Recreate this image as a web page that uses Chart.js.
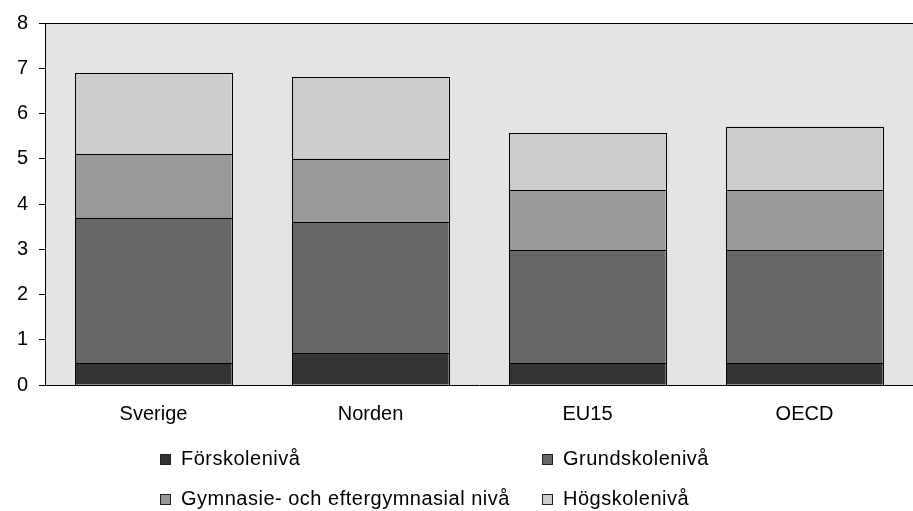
<!DOCTYPE html>
<html lang="sv">
<head>
  <meta charset="UTF-8" />
  <title>Utbildningsutgifter per nivå</title>
  <script src="https://cdn.jsdelivr.net/npm/chart.js"></script>
  <style>
    html, body { margin: 0; padding: 0; background: #fff; }
    #wrap { position: relative; width: 913px; height: 511px; }
    .leg { position: absolute; font: 20px "Liberation Sans", Arial, sans-serif; line-height: 20px; color: #000; letter-spacing: 0.5px; white-space: nowrap; }
    .sw { position: absolute; width: 9px; height: 9px; border: 1px solid #222; }
  </style>
</head>
<body>
  <div id="wrap">
    <canvas id="chart" width="913" height="511"></canvas>
    <div id="legend"></div>
  </div>

  <script>
    const countries = ['Sverige', 'Norden', 'EU15', 'OECD'];
    const forskola = [0.48, 0.7, 0.48, 0.48];
    const grundskola = [3.22, 2.9, 2.5, 2.5];
    const gymnasie = [1.4, 1.4, 1.32, 1.32];
    const hogskola = [1.8, 1.8, 1.27, 1.41];
    const yTicks = [0, 1, 2, 3, 4, 5, 6, 7, 8];

    const series = [
      { label: 'Förskolenivå', data: forskola, color: '#333333' },
      { label: 'Grundskolenivå', data: grundskola, color: '#666666' },
      { label: 'Gymnasie- och eftergymnasial nivå', data: gymnasie, color: '#999999' },
      { label: 'Högskolenivå', data: hogskola, color: '#cccccc' }
    ];

    // grey plot area + top frame line
    const plotBg = {
      id: 'plotBg',
      beforeDraw(chart) {
        const a = chart.chartArea, c = chart.ctx;
        c.save();
        c.fillStyle = '#e4e4e4';
        c.fillRect(a.left, a.top, a.right - a.left, a.bottom - a.top);
        c.strokeStyle = '#000';
        c.lineWidth = 1;
        c.beginPath();
        c.moveTo(a.left, Math.round(a.top) + 0.5);
        c.lineTo(a.right, Math.round(a.top) + 0.5);
        c.stroke();
        c.restore();
      }
    };

    // crisp 1px black outlines on every bar segment (shared edges land on one row)
    const crispEdges = {
      id: 'crispEdges',
      afterDatasetsDraw(chart) {
        const c = chart.ctx;
        const px = v => Math.round(v) + 0.5;
        c.save();
        c.strokeStyle = '#000';
        c.lineWidth = 1;
        chart.data.datasets.forEach((ds, i) => {
          chart.getDatasetMeta(i).data.forEach(bar => {
            const p = bar.getProps(['x', 'y', 'base', 'width'], true);
            const l = px(p.x - p.width / 2);
            const r = px(p.x + p.width / 2);
            const t = px(Math.min(p.y, p.base));
            const b = px(Math.max(p.y, p.base));
            c.strokeRect(l, t, r - l, b - t);
          });
        });
        c.restore();
      }
    };

    const font = { family: '"Liberation Sans", Arial, sans-serif', size: 20 };

    new Chart(document.getElementById('chart'), {
      type: 'bar',
      data: {
        labels: countries,
        datasets: series.map(s => ({
          label: s.label,
          data: s.data,
          backgroundColor: s.color,
          borderWidth: 0,
          categoryPercentage: 1,
          barPercentage: 0.72
        }))
      },
      options: {
        responsive: false,
        animation: false,
        layout: { padding: { top: 21, right: 0, left: 0, bottom: 0 } },
        plugins: { legend: { display: false }, tooltip: { enabled: false } },
        scales: {
          x: {
            stacked: true,
            grid: { display: false, drawTicks: false },
            border: { display: true, color: '#000', width: 1 },
            ticks: { color: '#000', font, padding: 17 },
            afterFit: s => { s.height = 126; }
          },
          y: {
            stacked: true,
            min: 0,
            max: 8,
            afterBuildTicks: s => { s.ticks = yTicks.map(v => ({ value: v })); },
            grid: { drawOnChartArea: false, drawTicks: true, tickLength: 6, color: '#000' },
            border: { display: true, color: '#000', width: 1 },
            ticks: { color: '#000', font, padding: 11 },
            afterFit: s => { s.width = 45; }
          }
        }
      },
      plugins: [plotBg, crispEdges]
    });

    // legend laid out in two columns like the original
    const legPos = [[160, 448], [542, 448], [160, 488], [542, 488]];
    const legend = document.getElementById('legend');
    series.forEach((s, i) => {
      const [x, y] = legPos[i];
      const sw = document.createElement('div');
      sw.className = 'sw';
      sw.style.left = x + 'px';
      sw.style.top = (y + 6) + 'px';
      sw.style.background = s.color;
      legend.appendChild(sw);
      const t = document.createElement('div');
      t.className = 'leg';
      t.style.left = (x + 21) + 'px';
      t.style.top = y + 'px';
      t.textContent = s.label;
      legend.appendChild(t);
    });
  </script>
</body>
</html>
